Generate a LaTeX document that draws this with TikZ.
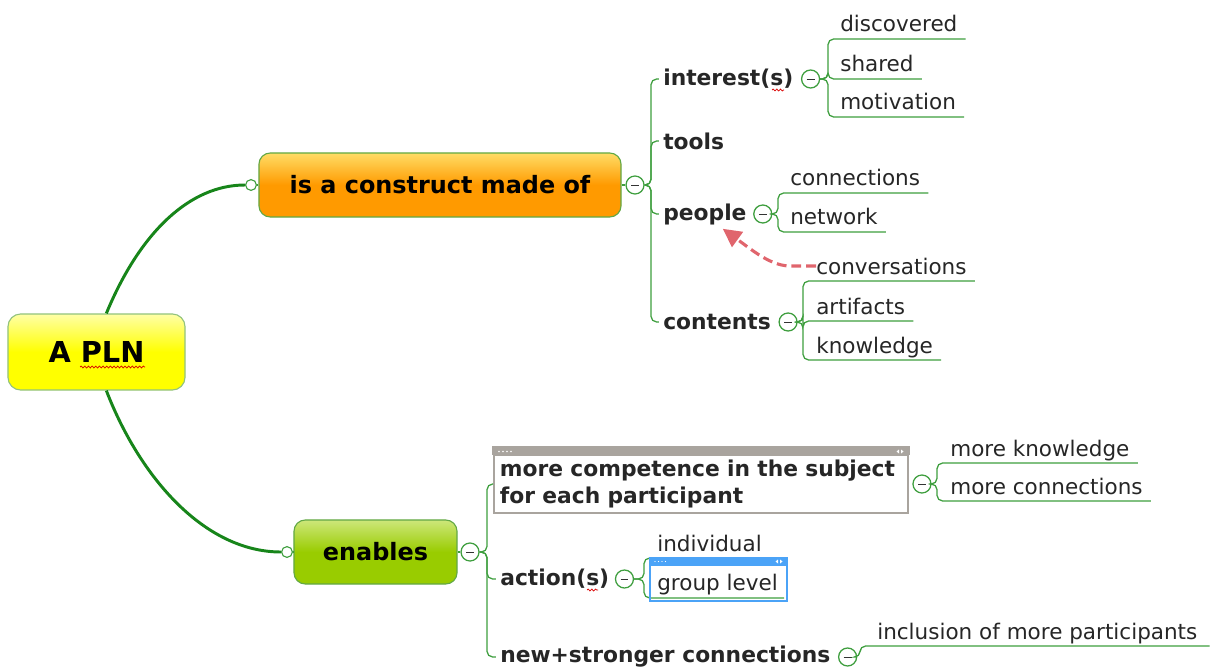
\documentclass[tikz,border=0pt]{standalone}
\usepackage{fontspec}
\setmainfont{DejaVu Sans}
\usetikzlibrary{arrows.meta,calc,decorations.pathmorphing}

\definecolor{trunkgreen}{HTML}{17851A}
\definecolor{twiggreen}{HTML}{3E9E3E}
\definecolor{boxgreen}{HTML}{62A845}
\definecolor{seered}{HTML}{E0656D}
\definecolor{hdrgray}{HTML}{A9A49E}
\definecolor{selblue}{HTML}{4BA3F7}
\definecolor{inkgray}{HTML}{262626}

\newcommand{\rootfont}{\fontsize{20.5}{24}\selectfont\bfseries}
\newcommand{\topicfont}{\fontsize{17}{20}\selectfont\bfseries}
\newcommand{\subfont}{\fontsize{15.5}{19.2}\selectfont\bfseries}
\newcommand{\leaffont}{\fontsize{15.3}{18}\selectfont}

\begin{document}
\begin{tikzpicture}[x=0.025cm, y=-0.025cm,
  trunk/.style={trunkgreen, line width=2.1pt},
  twig/.style={twiggreen, line width=0.9pt, rounded corners=4pt},
  spine/.style={twig, shorten >=3pt},
  rootbox/.style={draw=boxgreen!70, line width=0.8pt, rounded corners=9pt,
    top color=yellow!35, bottom color=yellow, middle color=yellow,
    minimum width=4.425cm, minimum height=1.9cm, font=\rootfont},
  topicbox/.style={draw=boxgreen, line width=0.8pt, rounded corners=8pt,
    minimum height=1.6cm, font=\topicfont},
  compbox/.style={draw=hdrgray, line width=1.3pt, fill=white,
    minimum width=10.35cm, minimum height=1.45cm, text width=10.05cm,
    inner xsep=0.15cm, align=left, font=\subfont, text=inkgray},
  sub/.style={anchor=west, inner sep=0pt, font=\subfont, text=inkgray},
  leaf/.style={anchor=base west, inner sep=0pt, font=\leaffont, text=inkgray},
  fold/.style={circle, draw=twiggreen, fill=white, line width=0.9pt,
    minimum size=0.45cm, inner sep=0pt,
    path picture={\draw[black!80, line width=0.6pt]
      ([xshift=-2.8pt]path picture bounding box.center) --
      ([xshift=2.8pt]path picture bounding box.center);}},
  port/.style={circle, draw=twiggreen, fill=white, line width=0.8pt,
    minimum size=0.27cm, inner sep=0pt},
  seealso/.style={seered, line width=2.2pt, dash pattern=on 7pt off 3.5pt,
    -{Triangle[length=13pt, width=13pt]}},
  squig/.style={red!85!black, line width=0.5pt, decorate,
    decoration={snake, amplitude=0.7pt, segment length=2.6pt}},
]
  % page size
  \useasboundingbox (0,0) rectangle (1215,669);

  % central topic and main topics
  \node[rootbox] (pln) at (96.5,352) {A PLN};
  \node[topicbox, top color=orange!45!yellow!60, bottom color={rgb,255:red,255;green,154;blue,0},
    middle color={rgb,255:red,255;green,154;blue,0}, minimum width=9.05cm] (made) at (440,185) {is a construct made of};
  \node[topicbox, top color={rgb,255:red,205;green,231;blue,122}, bottom color={rgb,255:red,153;green,204;blue,0},
    middle color={rgb,255:red,153;green,204;blue,0}, minimum width=4.075cm] (enab) at (375.5,552) {enables};
  \node[port] (madein) at (251,185) {};
  \node[port] (enabin) at (287,552) {};
  \node[fold] (madefold) at (635,185) {};
  \node[fold] (enabfold) at (470,552) {};

  \draw[trunk] ([xshift=7pt]pln.north) .. controls (140,232) and (190,185) .. (madein);
  \draw[trunk] ([xshift=7pt]pln.south) .. controls (140,478) and (205,552) .. (enabin);
  \draw[twig] (madein) -- (made);
  \draw[twig] (enabin) -- (enab);
  \draw[twig] (made) -- (madefold);
  \draw[twig] (enab) -- (enabfold);

  % what it is made of
  \node[sub] (int) at (663,79) {interest(s)};
  \node[sub] (tools) at (663,141) {tools};
  \node[sub] (ppl) at (663,214) {people};
  \node[sub] (cont) at (663,322) {contents};
  \coordinate (madespine) at (651,185);
  \foreach \t in {int,tools,ppl,cont}
    \draw[spine] (madefold) -- (madespine) |- (\t.west);

  \node[fold] (intfold) at ($(int.east)+(17,0)$) {};
  \node[fold] (pplfold) at ($(ppl.east)+(16,0)$) {};
  \node[fold] (contfold) at ($(cont.east)+(17,0)$) {};

  \node[leaf] (disc) at (840,32) {discovered};
  \node[leaf] (shrd) at (840,72) {shared};
  \node[leaf] (motv) at (840,110) {motivation};
  \node[leaf] (conn) at (790,186) {connections};
  \node[leaf] (netw) at (790,225) {network};
  \node[leaf] (conv) at (816,274) {conversations};
  \node[leaf] (arti) at (816,314) {artifacts};
  \node[leaf] (know) at (816,353) {knowledge};

  \foreach \l in {disc,shrd,motv}
    \draw[twig] (intfold) -- (828,79) |- ($(\l.base east)+(8,7)$);
  \foreach \l in {conn,netw}
    \draw[twig] (pplfold) -- (778,214) |- ($(\l.base east)+(8,7)$);
  \foreach \l in {conv,arti,know}
    \draw[twig] (contfold) -- (803,322) |- ($(\l.base east)+(8,7)$);

  % conversations point back to people
  \draw[seealso] (conv.west) -- ++(-24,0) .. controls (772,267) and (752,250) .. ($(ppl.south east)+(-24,4)$);

  % what it enables
  \node[compbox] (comp) at (701,484) {more competence in the subject\\for each participant};
  \filldraw[hdrgray, line width=1.3pt] ($(comp.north west)+(0,-7)$) rectangle (comp.north east);
  \foreach \i in {0,...,3}
    \fill[white] (499+\i*4,451.5) circle (0.55pt);
  \fill[white] (899,449.5) -- (899,453.5) -- (896.5,451.5) -- cycle;
  \fill[white] (901,449.5) -- (901,453.5) -- (903.5,451.5) -- cycle;

  \node[sub] (act) at (500,579) {action(s)};
  \node[sub] (nsc) at (500,657) {new+stronger connections};
  \coordinate (enabspine) at (487,552);
  \draw[twig] (enabfold) -- (enabspine) |- (comp.west);
  \foreach \t in {act,nsc}
    \draw[spine] (enabfold) -- (enabspine) |- (\t.west);

  \node[fold] (compfold) at ($(comp.east)+(13,0)$) {};
  \node[fold] (actfold) at ($(act.east)+(15,0)$) {};
  \node[fold] (nscfold) at ($(nsc.east)+(17,0)$) {};

  \node[leaf] (mknow) at (950,456) {more knowledge};
  \node[leaf] (mconn) at (950,494) {more connections};
  \node[leaf] (indiv) at (657,551) {individual};
  \node[leaf] (grp) at (657,590) {group level};
  \node[leaf] (incl) at (877,639) {inclusion of more participants};

  \foreach \l in {mknow,mconn}
    \draw[twig] (compfold) -- (937,484) |- ($(\l.base east)+(8,7)$);
  \draw[twig] (actfold) -- (644,579) |- ($(indiv.base east)+(8,7)$);
  \draw[twig] (actfold) -- (644,579) |- ($(grp.base east)+(6,8)$);
  \draw[twig] (nscfold) -- (860,657) |- ($(incl.base east)+(12,7)$);

  % selected topic frame
  \draw[selblue, line width=1.3pt] (650,558) rectangle (787,601);
  \filldraw[selblue, line width=1.3pt] (650,558) rectangle (787,565);
  \foreach \i in {0,...,3}
    \fill[white] (655+\i*3.5,561.5) circle (0.5pt);
  \fill[white] (778,559.5) -- (778,563.5) -- (775.5,561.5) -- cycle;
  \fill[white] (780,559.5) -- (780,563.5) -- (782.5,561.5) -- cycle;

  % spelling marks
  \draw[squig] (80,367) -- (145,367);
  \draw[squig] (772,90) -- (784,90);
  \draw[squig] (587,590) -- (598,590);
\end{tikzpicture}
\end{document}
